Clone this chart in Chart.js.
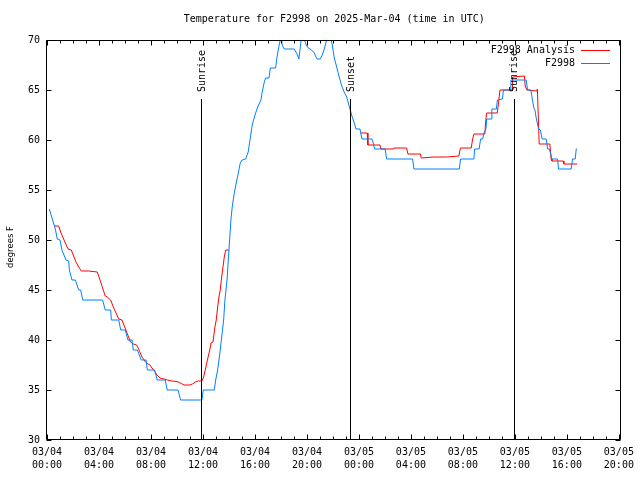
<!DOCTYPE html>
<html><head><meta charset="utf-8">
<script src="https://cdn.jsdelivr.net/npm/chart.js@4"></script>
<style>html,body{margin:0;padding:0;background:#fff}#wrap{width:640px;height:480px}</style>
</head><body><div id="wrap"><canvas id="c" width="640" height="480"></canvas></div>
<script>
const titleText = 'Temperature for F2998 on 2025-Mar-04 (time in UTC)';
const yAxisLabel = 'degrees F';
const seriesNames = ['F2998 Analysis', 'F2998'];
const xTickHours = [0, 4, 8, 12, 16, 20, 24, 28, 32, 36, 40, 44];
const xTickDates = ['03/04','03/04','03/04','03/04','03/04','03/04','03/05','03/05','03/05','03/05','03/05','03/05'];
const xTickTimes = ['00:00','04:00','08:00','12:00','16:00','20:00','00:00','04:00','08:00','12:00','16:00','20:00'];
const yTicks = [30, 35, 40, 45, 50, 55, 60, 65, 70];
const sunLabels = ['Sunrise', 'Sunset', 'Sunrise'];
const sunHours = [11.88, 23.35, 35.92];
const sunLineTop = 64.1;

// F2998 observations (hours since 03/04 00:00 UTC, deg F)
const obsHours = [0.18,0.64,0.79,1.0,1.15,1.46,1.67,1.72,1.92,2.18,2.44,2.59,2.75,4.28,4.48,4.90,4.95,5.52,5.67,6.02,
  6.23,6.54,6.64,6.95,7.25,7.62,7.72,8.28,8.48,9.10,9.25,10.08,10.28,11.92,12.02,12.87,12.98,13.13,13.23,13.33,
  13.44,13.59,13.69,13.85,13.95,14.05,14.15,14.25,14.41,14.56,14.72,14.87,15.02,15.28,15.48,15.64,15.79,16.0,16.21,16.46,
  16.56,16.72,16.82,17.08,17.18,17.59,17.69,17.79,18.0,18.1,18.25,19.02,19.28,19.38,19.48,19.59,19.69,19.95,20.1,20.36,
  20.56,20.77,21.02,21.18,21.38,21.59,21.79,21.95,22.1,22.27,22.46,22.68,22.86,23.06,23.31,23.46,23.62,23.77,24.08,24.23,
  25.0,25.1,25.21,26.02,26.13,28.13,28.23,31.72,31.82,32.85,32.9,33.25,33.36,33.52,33.62,33.77,33.83,34.18,34.23,34.58,
  34.65,35.04,35.12,35.64,35.69,36.87,36.98,37.23,37.35,37.46,37.54,37.64,37.82,37.96,38.1,38.41,38.52,38.64,38.74,38.85,
  39.28,39.36,40.33,40.44,40.64,40.72,40.79];
const obsTemps = [53.1,51.1,50.1,50,49,48,47.9,47,46,46,45,45,44,44,43,43,42,42,41,41,
  40,40,39,39,38,38,37,37,36,36,35,35,34,34,35,35,36,37,38,39,
  40.3,42,44,46,48,50,52,53.3,54.7,55.7,56.7,57.7,58,58.1,58.8,60.2,61.5,62.5,63.3,64,
  64.8,65.8,66.2,66.2,67.2,67.2,68.2,69,70.4,69.5,69.1,69.1,68.5,68.1,69.2,70.4,70.4,69.5,69.2,69,
  68.7,68.1,68.1,68.5,69.3,70.4,70.4,69.5,68.2,67.4,66.4,65.4,64.8,64.3,63.1,62.4,61.8,61.1,61.1,60.1,
  60.1,59.7,59.1,59.1,58.1,58.1,57.1,57.1,58.1,58.1,59.1,59.1,60.1,60.1,60.7,61.1,62.1,62.1,63.1,63.1,
  64,64.1,65,65,66,66,65,65,64,63.2,63,62.2,61.1,61,60.1,60.1,59.1,59.1,58.7,58.1,
  58.1,57.1,57.1,58.1,58.1,59.1,59.1];

// F2998 Analysis (null = gap)
const anaHours = [0.59,0.9,1.05,1.21,1.41,1.62,1.87,2.02,2.23,2.44,2.64,3.21,3.87,4.08,4.28,4.48,4.64,4.9,5.1,5.31,
  5.52,5.77,5.98,6.19,6.42,6.65,6.9,7.08,7.31,7.58,7.77,7.92,8.08,8.27,8.46,8.69,9.0,9.27,9.58,10.0,
  10.25,10.54,10.96,11.18,11.42,11.65,11.92,12.05,12.21,12.36,12.52,12.62,12.77,12.92,13.02,13.13,13.23,13.33,13.44,13.54,
  13.64,13.75,14.0, 19.0,
  24.13,24.64,24.69,25.62,25.69,26.64,26.69,27.67,27.77,28.73,28.79,29.77,30.75,31.69,31.81,32.64,32.75,32.85,33.69,33.73,
  33.82,34.64,34.75,34.85,35.79,35.82,36.73,36.79,36.92,37.69,37.73,37.81,37.87,38.69,38.79,38.85,39.72,39.77,40.79];
const anaTemps = [51.4,51.4,50.8,50.3,49.7,49.1,49,48.5,47.8,47.3,46.9,46.9,46.8,46,45.2,44.4,44.3,44,43.3,42.7,
  42.1,42,41.3,40.6,39.8,39.6,39.5,39,38.3,37.8,37.6,37.5,37.2,36.9,36.5,36.2,36.1,36,35.9,35.85,
  35.7,35.5,35.5,35.6,35.8,35.9,35.9,36.3,37.2,38.1,39,39.7,39.8,41.3,42,43.3,44.3,45,46.3,47.3,
  48.3,49,49, null,
  60.7,60.7,59.5,59.5,59.1,59.1,59.2,59.2,58.6,58.6,58.2,58.3,58.3,58.4,59.2,59.2,60.1,60.6,60.6,61.5,
  62.7,62.7,63.8,65,65,66.3,66.4,65.4,65,64.9,65.1,62,59.6,59.6,58.1,57.9,57.9,57.6,57.6];

const RED = '#ff0000', BLUE = '#0080ff';
const MONO = "'DejaVu Sans Mono', 'Liberation Mono', monospace";

const framePlugin = {
  id: 'gnuframe',
  afterDraw(chart) {
    const ctx = chart.ctx, a = chart.chartArea;
    const xs = chart.scales.x, ys = chart.scales.y;
    const L = Math.round(a.left) - 0.5, R = Math.round(a.right) - 0.5;
    const T = Math.round(a.top) + 0.5, B = Math.round(a.bottom) - 0.5;
    ctx.save();
    ctx.strokeStyle = '#000'; ctx.lineWidth = 1;
    ctx.beginPath();
    ctx.rect(L, T, R - L, B - T);
    // x ticks (minor every hour, major every 4 h), bottom and top
    for (let h = 0; h <= 44; h++) {
      const px = Math.round(xs.getPixelForValue(h)) + 0.5;
      const len = (h % 4 === 0) ? 5 : 3;
      ctx.moveTo(px, B); ctx.lineTo(px, B - len);
      ctx.moveTo(px, T); ctx.lineTo(px, T + len);
    }
    for (const v of yTicks) {
      const py = Math.round(ys.getPixelForValue(v)) + 0.5;
      ctx.moveTo(L, py); ctx.lineTo(L + 5, py);
      ctx.moveTo(R, py); ctx.lineTo(R - 5, py);
    }
    ctx.stroke();
    // sun lines
    ctx.beginPath();
    const topPx = ys.getPixelForValue(sunLineTop);
    sunHours.forEach(h => {
      const px = Math.round(xs.getPixelForValue(h)) + 0.5;
      ctx.moveTo(px, topPx); ctx.lineTo(px, B);
    });
    ctx.stroke();
    ctx.fillStyle = '#000';
    ctx.font = '10px ' + MONO;
    sunHours.forEach((h, i) => {
      const px = xs.getPixelForValue(h) + 1;
      ctx.save();
      ctx.translate(px, topPx - 7);
      ctx.rotate(-Math.PI / 2);
      ctx.textAlign = 'left'; ctx.textBaseline = 'middle';
      ctx.fillText(sunLabels[i], 0, 0);
      ctx.restore();
    });
    // title
    ctx.textAlign = 'center'; ctx.textBaseline = 'middle';
    ctx.fillText(titleText, (a.left + a.right) / 2, 19);
    // legend
    const colors = [RED, BLUE];
    seriesNames.forEach((n, i) => {
      const y = 50 + i * 13;
      ctx.fillStyle = '#000';
      ctx.textAlign = 'right';
      ctx.fillText(n, 575, y);
      ctx.strokeStyle = colors[i];
      ctx.beginPath(); ctx.moveTo(581, y + 0.5); ctx.lineTo(610, y + 0.5); ctx.stroke();
    });
    // y axis label
    ctx.save();
    ctx.fillStyle = '#000';
    ctx.font = "8.5px 'DejaVu Sans', sans-serif";
    ctx.translate(11, (a.top + a.bottom) / 2 + 7);
    ctx.rotate(-Math.PI / 2);
    ctx.textAlign = 'center'; ctx.textBaseline = 'middle';
    ctx.fillText(yAxisLabel, 0, 0);
    ctx.restore();
    ctx.restore();
  }
};

new Chart(document.getElementById('c'), {
  type: 'line',
  data: {
    datasets: [
      { label: seriesNames[1], data: obsHours.map((h, i) => ({ x: h, y: obsTemps[i] })),
        borderColor: BLUE, borderWidth: 1, pointRadius: 0, tension: 0, order: 0 },
      { label: seriesNames[0], data: anaHours.map((h, i) => ({ x: h, y: anaTemps[i] })),
        borderColor: RED, borderWidth: 1, pointRadius: 0, tension: 0, spanGaps: false, order: 1 }
    ]
  },
  options: {
    responsive: false, animation: false, devicePixelRatio: 1,
    layout: { padding: { top: 40, right: 18, left: 0, bottom: 0 } },
    plugins: { legend: { display: false }, title: { display: false }, tooltip: { enabled: false } },
    scales: {
      x: {
        type: 'linear', min: 0, max: 44.2,
        afterBuildTicks: s => { s.ticks = xTickHours.map(v => ({ value: v })); },
        afterFit: s => { s.height = 40; },
        grid: { display: false, drawTicks: false }, border: { display: false },
        ticks: { autoSkip: false, maxRotation: 0, minRotation: 0, padding: 6, color: '#000',
          font: { family: MONO, size: 10, lineHeight: 1.3 },
          callback: v => { const k = xTickHours.indexOf(v); return k < 0 ? '' : [xTickDates[k], xTickTimes[k]]; } }
      },
      y: {
        min: 30, max: 70,
        afterBuildTicks: s => { s.ticks = yTicks.map(v => ({ value: v })); },
        afterFit: s => { s.width = 47; },
        grid: { display: false, drawTicks: false }, border: { display: false },
        ticks: { padding: 7, color: '#000', font: { family: MONO, size: 10 }, callback: v => String(v) }
      }
    }
  },
  plugins: [framePlugin]
});
</script></body></html>
